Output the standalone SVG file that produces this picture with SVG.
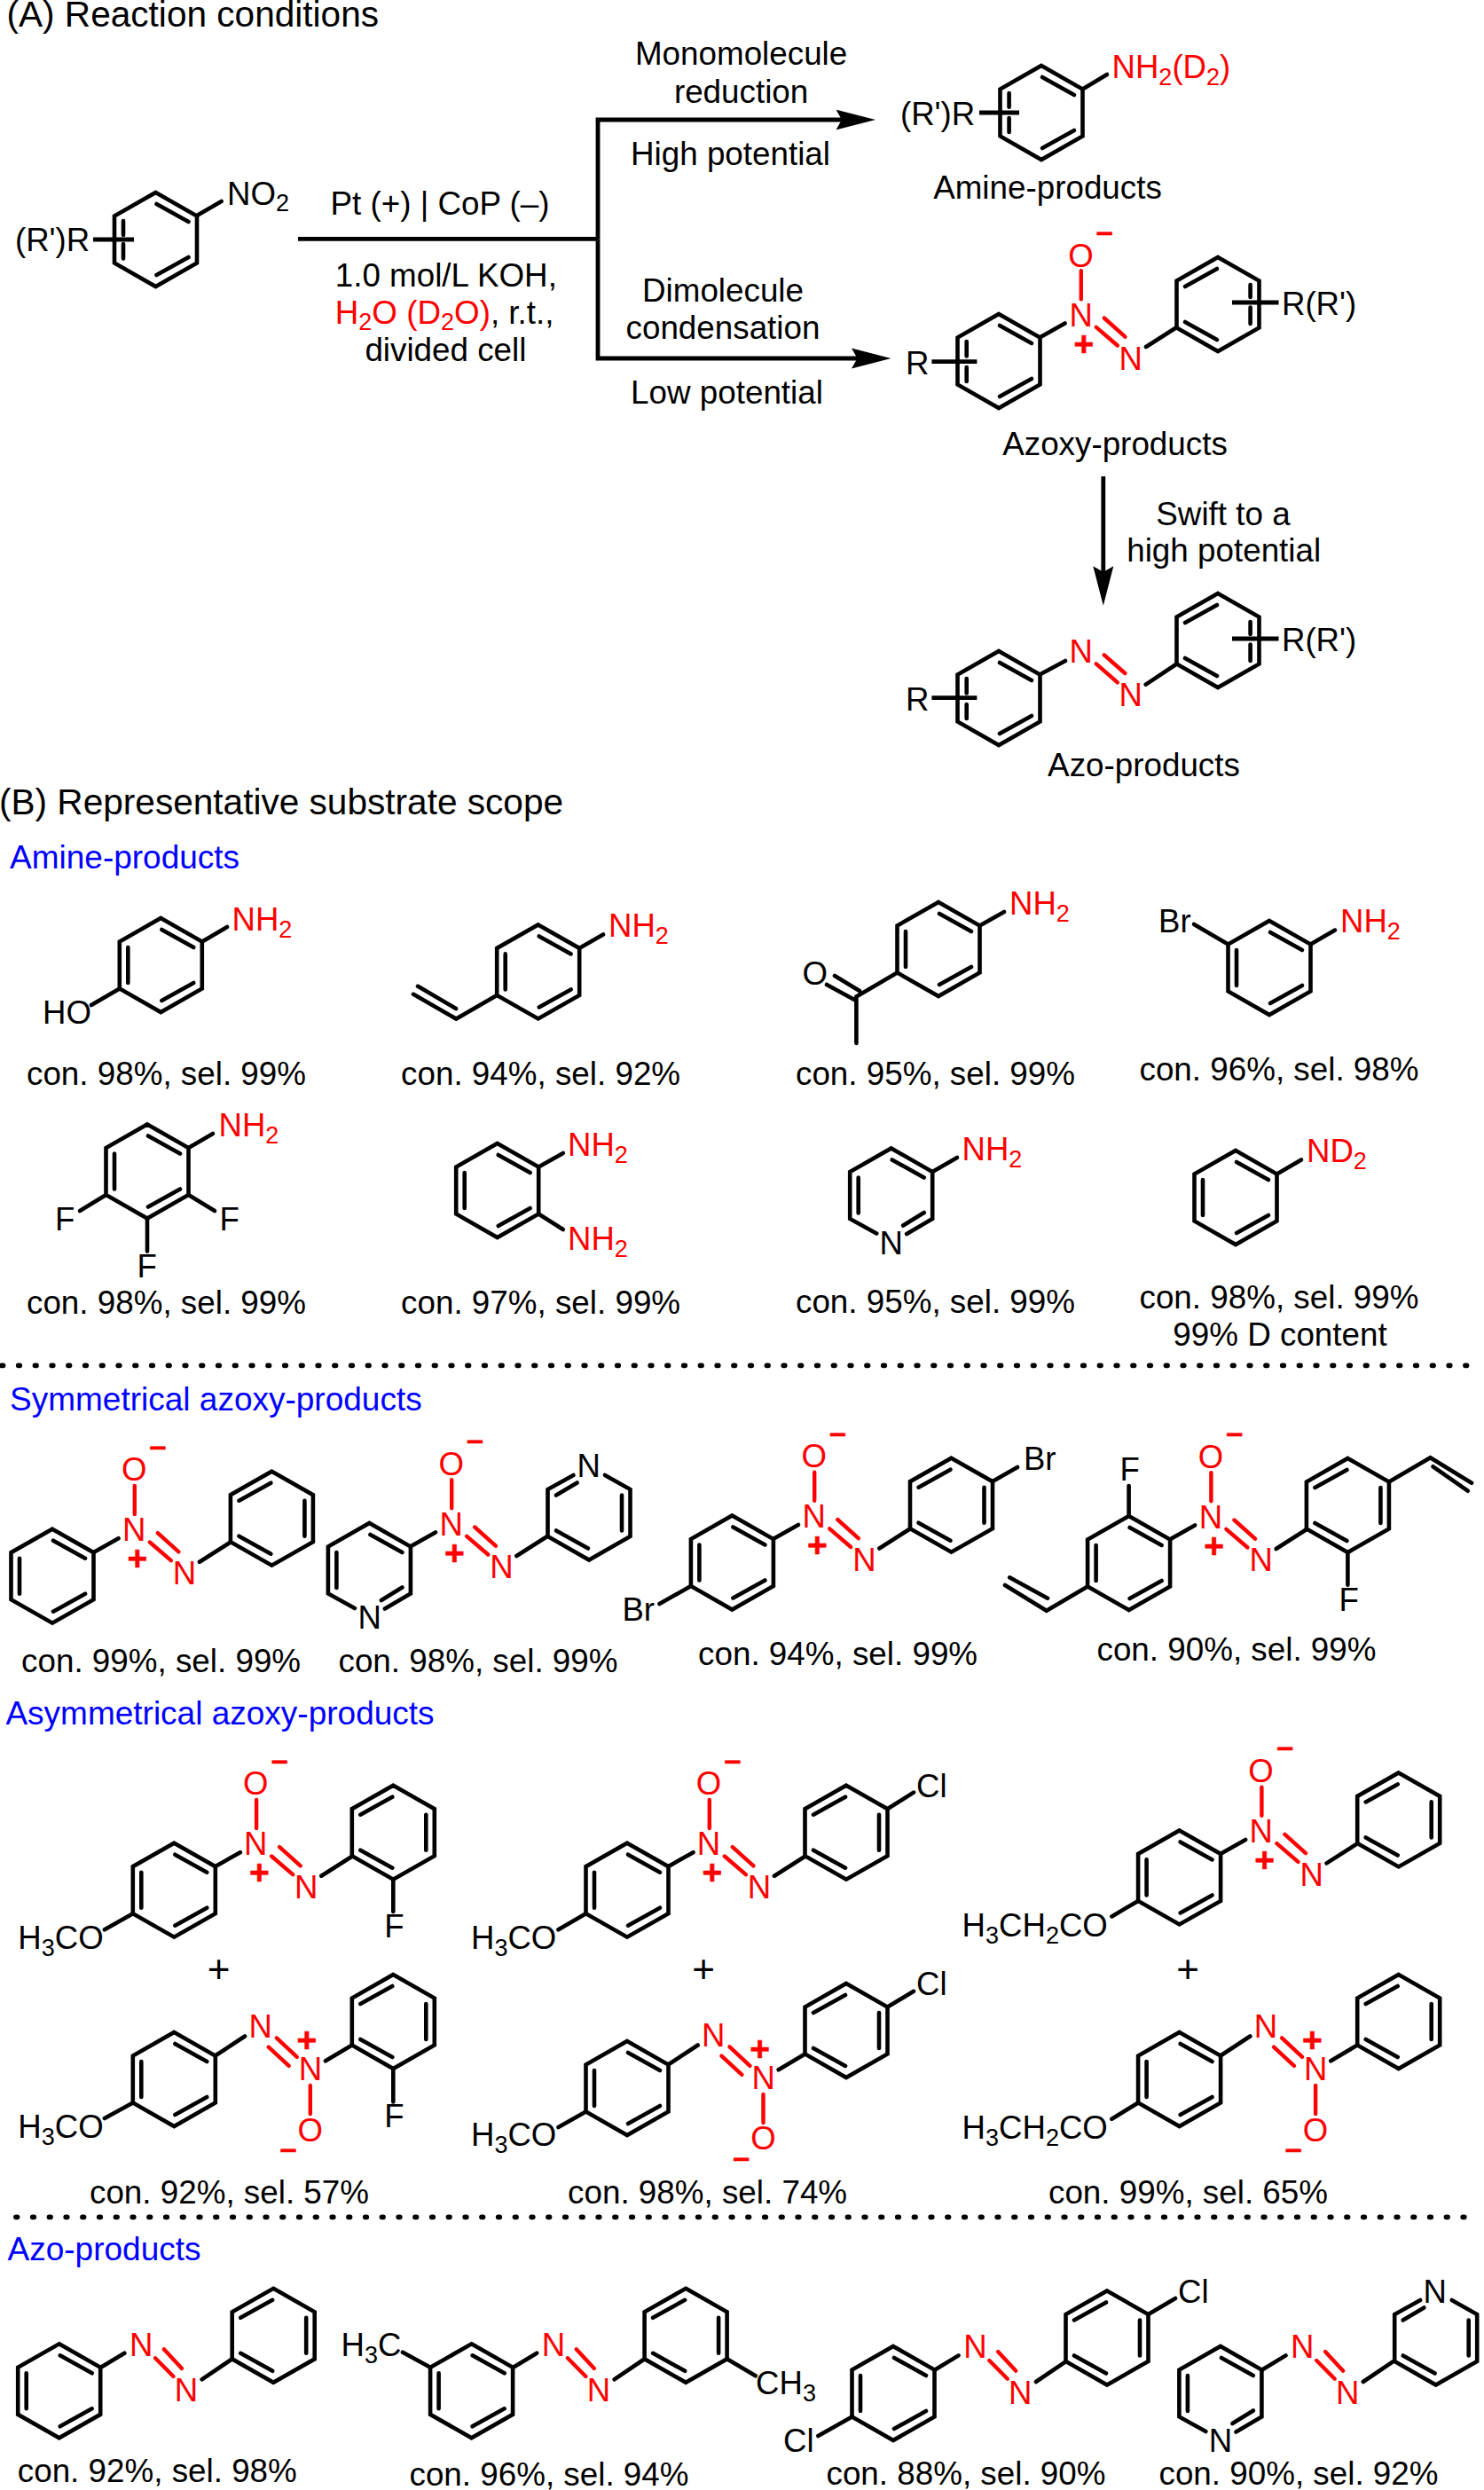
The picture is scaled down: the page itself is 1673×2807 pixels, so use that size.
<svg xmlns="http://www.w3.org/2000/svg" width="1673" height="2807" viewBox="0 0 1673 2807">
<style>
text{font-family:"Liberation Sans",Arial,sans-serif;font-size:36.8px;fill:#000}
.h{font-size:40.6px}
.l{font-size:37px}
.a{font-size:36.6px}
.s{font-size:27px}
.m{text-anchor:middle}
.r,.r tspan{fill:#f00}
.u{fill:#00f}
.c{font-size:34px;font-weight:bold;fill:#f00;text-anchor:middle;stroke:#f00;stroke-width:.6}
.q{font-size:39px}
.p{font-size:44px;text-anchor:middle}
.k{fill:none;stroke:#000;stroke-width:4.6;stroke-linejoin:miter;stroke-linecap:round}
.f{fill:none;stroke:#f00;stroke-width:4.4;stroke-linecap:round}
.w{fill:none;stroke:#000;stroke-width:4.8}
.d{fill:none;stroke:#000;stroke-width:5.8;stroke-linecap:round;stroke-dasharray:1.5 17.25}
</style>
<defs>
<marker id="head" markerUnits="userSpaceOnUse" markerWidth="46" markerHeight="24" refX="10" refY="12" orient="auto"><path d="M0,.5L44.5,12L0,23.5L6.5,12Z" fill="#000"/></marker>
<path id="rA" class="k" d="M0,-53L46.5,-26.5V26.5L0,53L-46.5,26.5V-26.5ZM1,-40L37,-20M37,20L1,40M-37,-20V20"/>
<path id="rB" class="k" d="M0,-53L46.5,-26.5V26.5L0,53L-46.5,26.5V-26.5ZM-1,-40L-37,-20M-37,20L-1,40M37,-20V20"/>
<path id="rA0" class="k" d="M0,-53L46.5,-26.5V26.5L0,53L-46.5,26.5V-26.5ZM1,-40L37,-20M37,20L1,40"/>
<path id="rB0" class="k" d="M0,-53L46.5,-26.5V26.5L0,53L-46.5,26.5V-26.5ZM-1,-40L-37,-20M-37,20L-1,40"/>
<path id="pyB" class="k" d="M-16.5,43L-46.5,26.5V-26.5L0,-53L46.5,-26.5V26.5L17.5,43.5M37,19.5L13.5,34M1,-40L37,-20M-37,-20V20"/>
<path id="pyT" class="k" d="M-17.5,-42.5L-46.5,-26.5V26.5L0,53L46.5,26.5V-26.5L18,-42.5M-37,-20L-13.3,-34M37,-20V20M-37,20L-1,40"/>
<g id="azoxyBonds"><path class="k" d="M47,-27L74.5,-42.5M166,-16L200.5,-38"/><path class="f" d="M92.8,-101.7V-69.7M109.8,-38.2L133.8,-17.5M118.8,-48.5L142.4,-27.3"/></g>
<g id="azoxyBonds2"><path class="k" d="M47,-27L79.7,-48.5M170.7,-20.7L200.5,-38.5"/><path class="f" d="M153.5,7V39M106.4,-36.3L129.4,-15.2M115.5,-46.6L138.5,-25.2"/></g>
<g id="azoBonds"><path class="k" d="M47,-26.5L73.6,-42.6M160.9,-13L194.7,-35.8"/><path class="f" d="M108.3,-37L128.8,-16.3M118.1,-47L138.3,-25.3"/></g>
</defs>

<g id="connectors">
<path class="w" d="M336,269.3H674"/>
<path class="w" d="M674,269.3V135H952.5" marker-end="url(#head)"/>
<path class="w" d="M674,269.3V404H970" marker-end="url(#head)"/>
<path class="w" d="M1243.8,537V648.2" marker-end="url(#head)"/>
<path class="d" d="M2,1539.3H1662"/>
<path class="d" d="M18,2499.3H1668"/>
</g>

<g id="labels-a">
<text class="h" x="7.5" y="30">(A) Reaction conditions</text>
<text class="m" x="835.6" y="73">Monomolecule</text>
<text class="m" x="835.6" y="116">reduction</text>
<text class="m" x="823.5" y="186">High potential</text>
<text class="m" x="496" y="241.7">Pt (+) | CoP (–)</text>
<text class="m" x="502.8" y="322.7">1.0 mol/L KOH,</text>
<text x="377.7" y="365"><tspan class="r">H<tspan class="s" dy="7">2</tspan><tspan dy="-7">O (D</tspan><tspan class="s" dy="7">2</tspan><tspan dy="-7">O)</tspan></tspan>, r.t.,</text>
<text class="m" x="502.4" y="407">divided cell</text>
<text class="m" x="815" y="340">Dimolecule</text>
<text class="m" x="815" y="381.7">condensation</text>
<text class="m" x="819.5" y="455">Low potential</text>
<text class="m" x="1181" y="224">Amine-products</text>
<text class="m" x="1257" y="512.7">Azoxy-products</text>
<text class="m" x="1379" y="591.7">Swift to a</text>
<text class="m" x="1379.7" y="633">high potential</text>
<text class="m" x="1289.5" y="875">Azo-products</text>
</g>

<g id="substrate">
<use href="#rA0" x="175.5" y="270"/>
<path class="k" d="M139,249V265M139,275V291.5M222,243L249.6,227"/>
<path class="w" d="M105,270H151"/>
<text class="a" x="256" y="231">NO<tspan class="s" dy="7">2</tspan></text>
<text class="a" x="17" y="283">(R')R</text>
</g>

<g id="amine-product">
<use href="#rA0" x="1174" y="127"/>
<path class="k" d="M1137.6,105V120.7M1137.6,133V149M1220.5,100.5L1248,84"/>
<path class="w" d="M1104,127H1149"/>
<text class="a r" x="1253.5" y="88.3">NH<tspan class="s" dy="8">2</tspan><tspan dy="-8">(D</tspan><tspan class="s" dy="8">2</tspan><tspan dy="-8">)</tspan></text>
<text class="a" x="1015" y="141">(R')R</text>
</g>

<g id="azoxy-product" transform="translate(1126,407)">
<use href="#rA0"/><use href="#rB0" x="247" y="-64"/>
<use href="#azoxyBonds"/>
<path class="k" d="M-36.3,-22V-5.5M-36.3,7V23M283.6,-86V-72M283.6,-60.5V-42"/>
<path class="w" d="M-75.6,.7H-24.6M263,-66H315.5"/>
<text class="a" x="-105" y="14.7">R</text>
<text class="a" x="319" y="-52">R(R')</text>
<text class="a r m" x="92.6" y="-39.3">N</text>
<text class="a r m" x="92.6" y="-106.3">O</text>
<text class="c" x="119.3" y="-135">–</text>
<text class="c q" x="96" y="-6">+</text>
<text class="a r m" x="148.8" y="9.7">N</text>
</g>

<g id="azo-product" transform="translate(1126,787)">
<use href="#rA0"/><use href="#rB0" x="247" y="-65"/>
<path class="k" d="M47,-27L75,-42M165.7,-15.3L200.5,-38.5"/>
<path class="f" d="M109.8,-38.7L133.8,-17.7M118.8,-48.7L142.3,-28"/>
<path class="k" d="M-36.3,-22V-5.5M-36.3,7V23M283.6,-86V-72M283.6,-60.5V-42"/>
<path class="w" d="M-75.6,-.3H-24.6M263,-67H315.5"/>
<text class="a" x="-105" y="13.7">R</text>
<text class="a" x="319" y="-53">R(R')</text>
<text class="a r m" x="92.6" y="-40.3">N</text>
<text class="a r m" x="148.8" y="9">N</text>
</g>

<g id="labels-b">
<text class="h" x="-1" y="917.5">(B) Representative substrate scope</text>
<text class="u l" x="11" y="979">Amine-products</text>
<text class="u l" x="11" y="1590">Symmetrical azoxy-products</text>
<text class="u l" x="6.4" y="1944">Asymmetrical azoxy-products</text>
<text class="u l" x="8.5" y="2548.3">Azo-products</text>
</g>

<g id="amine-1">
<use href="#rA" x="181.3" y="1088"/>
<path class="k" d="M228,1061.5L256,1045M134.8,1114.5L103,1133"/>
<text class="a r" x="261.5" y="1048.6">NH<tspan class="s" dy="8">2</tspan></text>
<text class="a" x="48" y="1154">HO</text>
<text class="m" x="187.5" y="1222.8">con. 98%, sel. 99%</text>
</g>
<g id="amine-2">
<use href="#rA" x="606.7" y="1095.4"/>
<path class="k" d="M653,1069L680,1053.5M560.2,1122L514.3,1148.6L466,1120.8M471,1111.8L514,1137"/>
<text class="a r" x="686" y="1055.5">NH<tspan class="s" dy="8">2</tspan></text>
<text class="m" x="609.6" y="1222.8">con. 94%, sel. 92%</text>
</g>
<g id="amine-3">
<use href="#rA" x="1058" y="1070"/>
<path class="k" d="M1104.5,1043.5L1132,1028M1011.5,1096.5L965.4,1123.6V1176M941,1100L969,1117M932,1110L965,1128"/>
<text class="a r" x="1138" y="1030.7">NH<tspan class="s" dy="8">2</tspan></text>
<text class="a" x="904.5" y="1110">O</text>
<text class="m" x="1054.5" y="1222.5">con. 95%, sel. 99%</text>
</g>
<g id="amine-4">
<use href="#rA" x="1431" y="1091"/>
<path class="k" d="M1477.5,1064.5L1505,1048.6M1384.5,1064.5L1346,1042"/>
<text class="a r" x="1511" y="1051">NH<tspan class="s" dy="8">2</tspan></text>
<text class="a" x="1306" y="1051">Br</text>
<text class="m" x="1442" y="1217.9">con. 96%, sel. 98%</text>
</g>
<g id="amine-5">
<use href="#rA" x="166" y="1320.5"/>
<path class="k" d="M212.5,1294L240,1278M119.5,1347L90,1365M212.5,1347L242,1365M166,1373.5V1410.6"/>
<text class="a r" x="246.5" y="1280.8">NH<tspan class="s" dy="8">2</tspan></text>
<text class="a" x="62" y="1387.3">F</text>
<text class="a" x="247.5" y="1387.3">F</text>
<text class="a" x="154.5" y="1440">F</text>
<text class="m" x="187.5" y="1480.8">con. 98%, sel. 99%</text>
</g>
<g id="amine-6">
<use href="#rA" x="560.7" y="1342"/>
<path class="k" d="M607.2,1315.5L634.8,1300M607.2,1368.5L634.8,1386"/>
<text class="a r" x="640" y="1303">NH<tspan class="s" dy="8">2</tspan></text>
<text class="a r" x="640" y="1408.6">NH<tspan class="s" dy="8">2</tspan></text>
<text class="m" x="609.6" y="1480.8">con. 97%, sel. 99%</text>
</g>
<g id="amine-7">
<use href="#pyB" x="1004.7" y="1347.5"/>
<path class="k" d="M1051.2,1321L1079,1305"/>
<text class="a r" x="1084.5" y="1308">NH<tspan class="s" dy="8">2</tspan></text>
<text class="a m" x="1004.7" y="1413.6">N</text>
<text class="m" x="1054.5" y="1479.6">con. 95%, sel. 99%</text>
</g>
<g id="amine-8">
<use href="#rA" x="1393" y="1350"/>
<path class="k" d="M1439.5,1323.5L1467,1307.5"/>
<text class="a r" x="1473" y="1310">ND<tspan class="s" dy="8">2</tspan></text>
<text class="m" x="1442" y="1475">con. 98%, sel. 99%</text>
<text class="m" x="1443" y="1517">99% D content</text>
</g>

<g id="sym-1">
<g transform="translate(59,1776.7)">
<use href="#rA"/><use href="#rB" x="247.4" y="-65"/><use href="#azoxyBonds"/>
<text class="a r m" x="92.3" y="-39.4">N</text><text class="a r m" x="92.3" y="-107.4">O</text><text class="c" x="119" y="-136">–</text><text class="c q" x="96" y="-6.5">+</text><text class="a r m" x="149" y="9.4">N</text>
</g>
<text class="m" x="181.6" y="1885">con. 99%, sel. 99%</text>
</g>
<g id="sym-2">
<g transform="translate(416.4,1770)">
<use href="#pyB"/><use href="#pyT" x="247.6" y="-64.5"/><use href="#azoxyBonds"/>
<text class="a r m" x="92.3" y="-39.4">N</text><text class="a r m" x="92.3" y="-107.4">O</text><text class="c" x="119" y="-136">–</text><text class="c q" x="96" y="-6.5">+</text><text class="a r m" x="149" y="9.4">N</text>
<text class="a m" x="0.3" y="66">N</text><text class="a m" x="247.2" y="-105">N</text>
</g>
<text class="m" x="539" y="1885">con. 98%, sel. 99%</text>
</g>
<g id="sym-3">
<g transform="translate(825.4,1761.5)">
<use href="#rA"/><use href="#rB" x="247.1" y="-64.8"/><use href="#azoxyBonds"/>
<text class="a r m" x="92.3" y="-39.4">N</text><text class="a r m" x="92.3" y="-107.4">O</text><text class="c" x="119" y="-136">–</text><text class="c q" x="96" y="-6.5">+</text><text class="a r m" x="149" y="9.4">N</text>
<path class="k" d="M-46.5,26.5L-81.9,46.5M293.6,-91.5L321.6,-107.5"/>
<text class="a" x="-124" y="65.8">Br</text><text class="a" x="328.5" y="-104.8">Br</text>
</g>
<text class="m" x="944.6" y="1876.7">con. 94%, sel. 99%</text>
</g>
<g id="sym-4">
<g transform="translate(1272.6,1762)">
<use href="#rA"/><use href="#rB" x="246.8" y="-65"/><use href="#azoxyBonds"/>
<text class="a r m" x="92.3" y="-39.4">N</text><text class="a r m" x="92.3" y="-107.4">O</text><text class="c" x="119" y="-136">–</text><text class="c q" x="96" y="-6.5">+</text><text class="a r m" x="149" y="9.4">N</text>
<path class="k" d="M0,-53V-87M246.8,-12V24.7M-46.5,26.5L-92.8,53.7L-139.6,25M-134.4,16.3L-91.6,39.7M293.3,-91.5L339.9,-118.7L386.4,-90.3M343,-108.7L382.1,-81.3"/>
<text class="a" x="-10" y="-92.7">F</text><text class="a" x="236.8" y="54">F</text>
</g>
<text class="m" x="1394" y="1871.7">con. 90%, sel. 99%</text>
</g>

<g id="asym-1-a" transform="translate(196.3,2130.7)">
<use href="#rA"/><use href="#rB" x="247" y="-65"/><use href="#azoxyBonds"/>
<text class="a r m" x="92" y="-39.4">N</text><text class="a r m" x="92" y="-107.4">O</text><text class="c" x="119" y="-136">–</text><text class="c q" x="96" y="-6.5">+</text><text class="a r m" x="149" y="9.4">N</text>
<path class="k" d="M247,-12V24.3M-46.5,26.5L-78.4,44.6"/>
<text class="a" x="237" y="53.8">F</text>
<text class="a" x="-176" y="66.8">H<tspan class="s" dy="8">3</tspan><tspan dy="-8">CO</tspan></text>
</g>
<text class="p" id="plus-1" x="246.7" y="2234.7">+</text>
<g id="asym-1-b" transform="translate(196.3,2344)">
<use href="#rA"/><use href="#rB" x="247" y="-65"/><use href="#azoxyBonds2"/>
<text class="a r m" x="97.3" y="-46.6">N</text><text class="c q" x="149.7" y="-31.5">+</text><text class="a r m" x="153.7" y="1.4">N</text><text class="a r m" x="153.4" y="69.9">O</text><text class="c" x="128.7" y="88.9">–</text>
<path class="k" d="M247,-12V25.5M-46.5,26.5L-78.4,44"/>
<text class="a" x="237" y="54.4">F</text>
<text class="a" x="-176" y="66">H<tspan class="s" dy="8">3</tspan><tspan dy="-8">CO</tspan></text>
</g>
<text class="m" id="asym-1-con" x="258.5" y="2484.2">con. 92%, sel. 57%</text>

<g id="asym-2-a" transform="translate(707,2130.7)">
<use href="#rA"/><use href="#rB" x="247" y="-65"/><use href="#azoxyBonds"/>
<text class="a r m" x="92" y="-39.4">N</text><text class="a r m" x="92" y="-107.4">O</text><text class="c" x="119" y="-136">–</text><text class="c q" x="96" y="-6.5">+</text><text class="a r m" x="149" y="9.4">N</text>
<path class="k" d="M293.5,-91.5L323,-110.1M-46.5,26.5L-77.5,44.6"/>
<text class="a" x="326" y="-104.7">Cl</text>
<text class="a" x="-176" y="66.8">H<tspan class="s" dy="8">3</tspan><tspan dy="-8">CO</tspan></text>
</g>
<text class="p" id="plus-2" x="793" y="2234.7">+</text>
<g id="asym-2-b" transform="translate(707,2354)">
<use href="#rA"/><use href="#rB" x="247" y="-65"/><use href="#azoxyBonds2"/>
<text class="a r m" x="97.3" y="-46.6">N</text><text class="c q" x="149.7" y="-31.5">+</text><text class="a r m" x="153.7" y="1.4">N</text><text class="a r m" x="153.4" y="69">O</text><text class="c" x="128.7" y="88.9">–</text>
<path class="k" d="M293.5,-91.5L323,-109.2M-46.5,26.5L-77.5,44"/>
<text class="a" x="326" y="-104.7">Cl</text>
<text class="a" x="-176" y="65.4">H<tspan class="s" dy="8">3</tspan><tspan dy="-8">CO</tspan></text>
</g>
<text class="m" id="asym-2-con" x="797.6" y="2484.2">con. 98%, sel. 74%</text>

<g id="asym-3-a" transform="translate(1329.6,2116.4)">
<use href="#rA"/><use href="#rB" x="247.1" y="-65"/><use href="#azoxyBonds"/>
<text class="a r m" x="92" y="-39.4">N</text><text class="a r m" x="92" y="-107.4">O</text><text class="c" x="119" y="-136">–</text><text class="c q" x="96" y="-6.5">+</text><text class="a r m" x="149" y="9.4">N</text>
<path class="k" d="M-46.5,26.5L-76.2,44"/>
<text class="a" x="-245" y="66.3">H<tspan class="s" dy="8">3</tspan><tspan dy="-8">CH</tspan><tspan class="s" dy="8">2</tspan><tspan dy="-8">CO</tspan></text>
</g>
<text class="p" id="plus-3" x="1339" y="2234.7">+</text>
<g id="asym-3-b" transform="translate(1329.6,2344)">
<use href="#rA"/><use href="#rB" x="247.1" y="-65"/><use href="#azoxyBonds2"/>
<text class="a r m" x="97.3" y="-46.6">N</text><text class="c q" x="149.7" y="-31.5">+</text><text class="a r m" x="153.7" y="1.4">N</text><text class="a r m" x="153.4" y="69.9">O</text><text class="c" x="128.7" y="88.9">–</text>
<path class="k" d="M-46.5,26.5L-76.2,44.7"/>
<text class="a" x="-245" y="67">H<tspan class="s" dy="8">3</tspan><tspan dy="-8">CH</tspan><tspan class="s" dy="8">2</tspan><tspan dy="-8">CO</tspan></text>
</g>
<text class="m" id="asym-3-con" x="1339.5" y="2484.2">con. 99%, sel. 65%</text>

<g id="azo-1">
<g transform="translate(66.7,2695.3)">
<use href="#rA"/><use href="#rB" x="241.5" y="-62.5"/><use href="#azoBonds"/>
<text class="a r m" x="92.4" y="-39.6">N</text><text class="a r m" x="143.3" y="12">N</text>
</g>
<text class="m" x="177.3" y="2798.3">con. 92%, sel. 98%</text>
</g>
<g id="azo-2">
<g transform="translate(531.6,2695.3)">
<use href="#rA"/><use href="#rB" x="241.5" y="-62.5"/><use href="#azoBonds"/>
<text class="a r m" x="92.4" y="-39.6">N</text><text class="a r m" x="143.3" y="12">N</text>
<path class="k" d="M-46.5,-26.5L-77.6,-43.6M288,-36L320.1,-17"/>
<text class="a" x="-147" y="-39.6">H<tspan class="s" dy="8">3</tspan><tspan dy="-8">C</tspan></text>
<text class="a" x="320.5" y="3.7">CH<tspan class="s" dy="8">3</tspan></text>
</g>
<text class="m" x="619" y="2801.7">con. 96%, sel. 94%</text>
</g>
<g id="azo-3">
<g transform="translate(1007,2698)">
<use href="#rA"/><use href="#rB" x="241" y="-62.5"/><use href="#azoBonds"/>
<text class="a r m" x="92.4" y="-39.6">N</text><text class="a r m" x="143.3" y="12">N</text>
<path class="k" d="M-46.5,26.5L-84.6,48M287.5,-89L318,-107"/>
<text class="a" x="-124" y="66.3">Cl</text>
<text class="a" x="321" y="-102">Cl</text>
</g>
<text class="m" x="1089" y="2800.7">con. 88%, sel. 90%</text>
</g>
<g id="azo-4">
<g transform="translate(1375.9,2698)">
<use href="#pyB"/><use href="#pyT" x="242.8" y="-62.5"/><use href="#azoBonds"/>
<text class="a r m" x="92.4" y="-39.6">N</text><text class="a r m" x="143.3" y="12">N</text>
<text class="a m" x="0" y="66.3">N</text><text class="a m" x="241.8" y="-102">N</text>
</g>
<text class="m" x="1464" y="2800.7">con. 90%, sel. 92%</text>
</g>
</svg>
